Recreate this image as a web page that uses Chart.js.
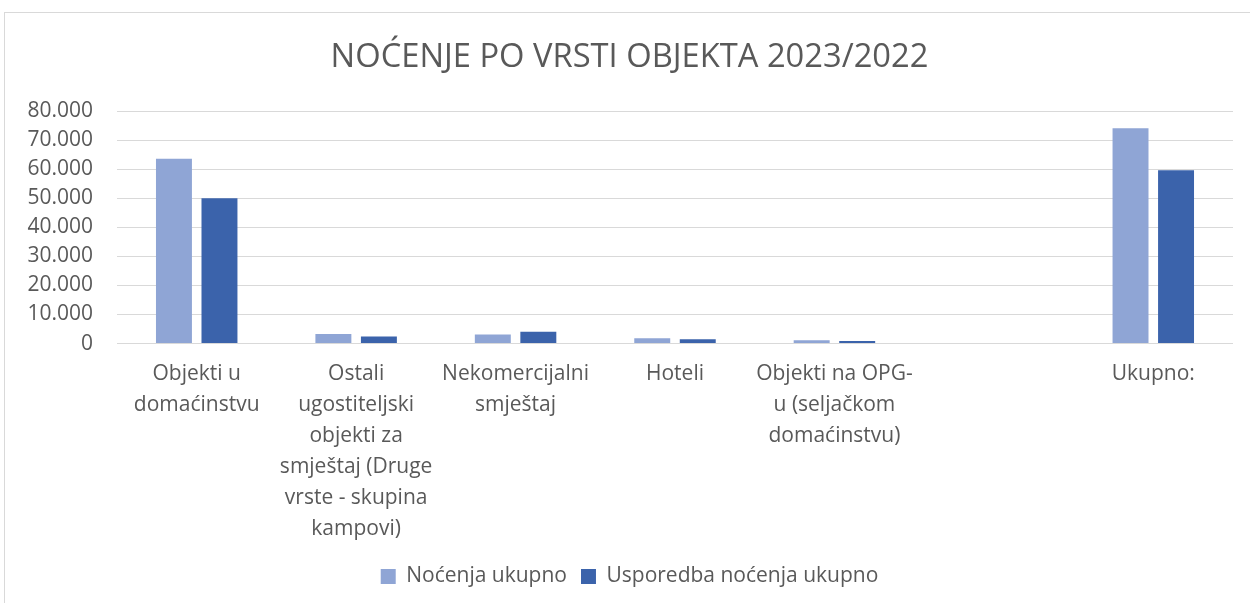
<!DOCTYPE html>
<html>
<head>
<meta charset="utf-8">
<script src="https://cdn.jsdelivr.net/npm/chart.js@4"></script>
<style>
  html, body { margin: 0; padding: 0; background: #fff; }
  #frame { position: absolute; left: 4px; top: 12px; width: 1260px; height: 600px; border: 1px solid #d9d9d9; }
  #wrap { position: absolute; left: 0; top: 0; width: 1250px; height: 603px; }
</style>
</head>
<body>
<div id="frame"></div>
<div id="wrap"><canvas id="chart"></canvas></div>
<script>
const categories = [
    ["Objekti u", "domaćinstvu"],
    ["Ostali", "ugostiteljski", "objekti za", "smještaj (Druge", "vrste - skupina", "kampovi)"],
    ["Nekomercijalni", "smještaj"],
    ["Hoteli"],
    ["Objekti na OPG-", "u (seljačkom", "domaćinstvu)"],
    "",
    ["Ukupno:"]
];
const nocenjaUkupno = [63600, 3250, 3100, 1850, 1150, null, 74100];
const usporedbaUkupno = [50000, 2400, 4050, 1500, 900, null, 59700];

const textColor = "#595959";
const fontFamily = "'Open Sans', sans-serif";

const ctx = document.getElementById("chart");

new Chart(ctx, {
    type: "bar",
    data: {
        labels: categories,
        datasets: [
            {
                label: "Noćenja ukupno",
                data: nocenjaUkupno,
                backgroundColor: "#8fa5d5",
                categoryPercentage: 0.571,
                barPercentage: 0.79
            },
            {
                label: "Usporedba noćenja ukupno",
                data: usporedbaUkupno,
                backgroundColor: "#3b63ab",
                categoryPercentage: 0.571,
                barPercentage: 0.79
            }
        ]
    },
    options: {
        responsive: true,
        maintainAspectRatio: false,
        animation: false,
        layout: {
            padding: { left: 26, right: 17, top: 38, bottom: 6 }
        },
        plugins: {
            title: {
                display: true,
                text: "NOĆENJE PO VRSTI OBJEKTA 2023/2022",
                color: textColor,
                font: { family: fontFamily, size: 32.7, weight: "normal" },
                padding: { top: 0, bottom: 34 }
            },
            legend: {
                position: "bottom",
                labels: {
                    color: textColor,
                    font: { family: fontFamily, size: 21 },
                    boxWidth: 15,
                    boxHeight: 15,
                    padding: 14
                }
            },
            tooltip: { enabled: false }
        },
        scales: {
            x: {
                grid: { display: false },
                border: { display: false },
                ticks: {
                    color: textColor,
                    font: { family: fontFamily, size: 21, lineHeight: 1.48 },
                    maxRotation: 0,
                    autoSkip: false,
                    padding: 7
                }
            },
            y: {
                min: 0,
                max: 80000,
                grid: { color: "#d9d9d9", lineWidth: 1, drawTicks: false },
                border: { display: false },
                afterFit: scale => { scale.width = 91; },
                ticks: {
                    stepSize: 10000,
                    color: textColor,
                    font: { family: fontFamily, size: 21 },
                    padding: 24,
                    callback: v => v === 0 ? "0" : v.toLocaleString("de-DE")
                }
            }
        }
    }
});
</script>
</body>
</html>
